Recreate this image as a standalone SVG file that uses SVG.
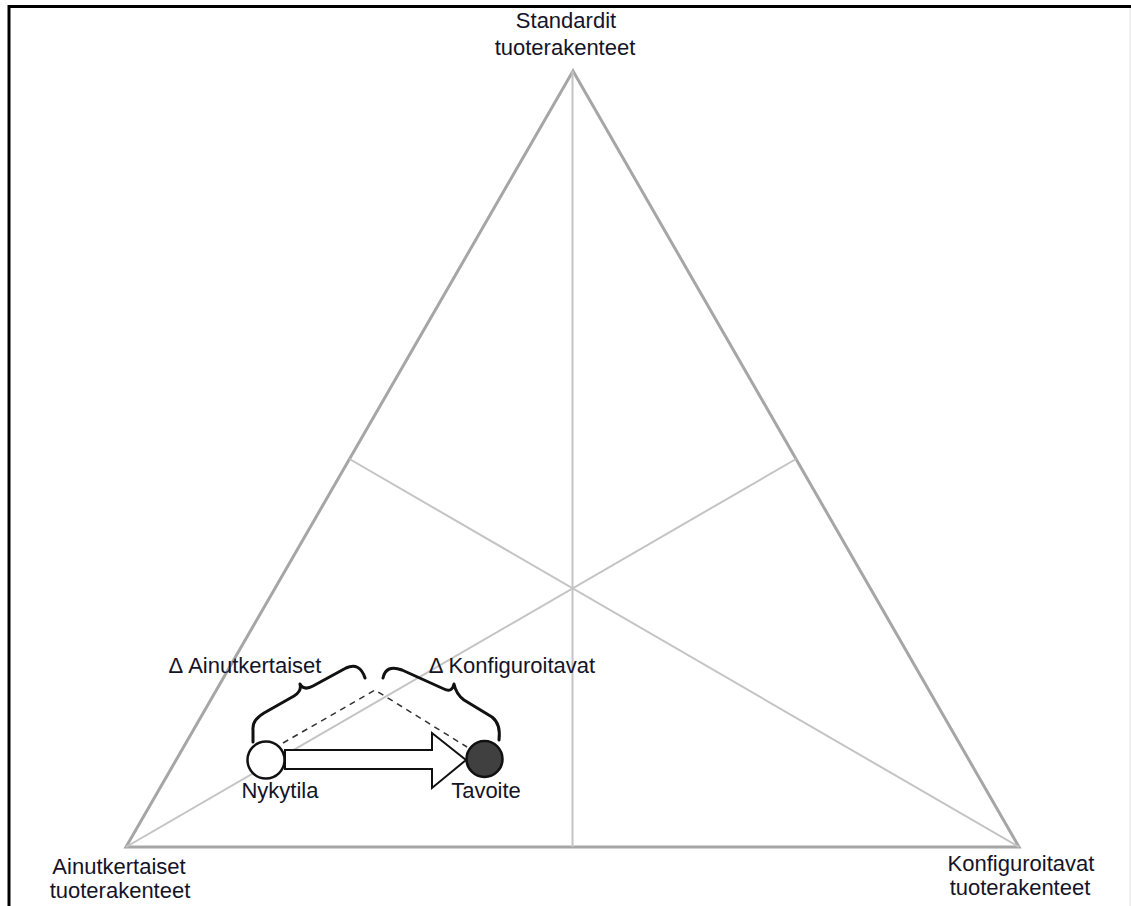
<svg xmlns="http://www.w3.org/2000/svg" width="1131" height="906" viewBox="0 0 1131 906">
  <style>
    .lbl { font-family: "Liberation Sans", Arial, sans-serif; font-size: 22px; fill: #141428; text-anchor: middle; }
    .tri { fill: none; stroke: #a6a6a6; stroke-width: 3; stroke-linejoin: miter; }
    .guide { fill: none; stroke: #c4c4c4; stroke-width: 2; }
    .brace { fill: none; stroke: #111; stroke-width: 3; stroke-linecap: round; stroke-linejoin: round; }
    .dash { fill: none; stroke: #333; stroke-width: 1.5; stroke-dasharray: 6 5; }
  </style>

  <rect x="0" y="0" width="1131" height="906" fill="#fff"/>
  <!-- frame -->
  <path d="M9,906 V6.5 H1131" fill="none" stroke="#000" stroke-width="3"/>
  <line x1="1130" y1="8" x2="1130" y2="906" stroke="#e2e2e2" stroke-width="1"/>

  <!-- ternary triangle -->
  <g id="triangle">
    <polygon class="tri" points="573,71 1019,847 126,847"/>
    <g class="guide">
      <line x1="572.5" y1="71" x2="572.5" y2="847"/>
      <line x1="126" y1="847" x2="796" y2="459"/>
      <line x1="1019" y1="847" x2="349.5" y2="459"/>
    </g>
  </g>

  <!-- corner labels -->
  <g id="corner-standard">
    <text class="lbl" x="566" y="28">Standardit</text>
    <text class="lbl" x="565" y="55">tuoterakenteet</text>
  </g>
  <g id="corner-unique">
    <text class="lbl" x="119" y="874">Ainutkertaiset</text>
    <text class="lbl" x="120" y="898">tuoterakenteet</text>
  </g>
  <g id="corner-configurable">
    <text class="lbl" x="1021" y="871">Konfiguroitavat</text>
    <text class="lbl" x="1020" y="895">tuoterakenteet</text>
  </g>

  <!-- connectors -->
  <g id="connectors">
    <polyline class="dash" points="283,743 375,690 467,747"/>
    <path d="M285,750 H432 V733 L466,760 L432,788 V769 H285 Z" fill="#fff" stroke="#111" stroke-width="2" stroke-linejoin="miter"/>
    <!-- left brace -->
    <path class="brace" d="M253,742 V730 Q252,720 264,713 L294,696 Q302,691 300,684 Q304,691 313,686 L346,668 Q360,662 365,678"/>
    <!-- right brace -->
    <path class="brace" d="M383,678 Q386,664 402,670 L444,689 Q452,693 454,684 Q456,694 464,700 L492,717 Q501,724 499,740"/>
  </g>

  <!-- states -->
  <g id="node-nykytila">
    <circle cx="266" cy="760" r="18.5" fill="#fff" stroke="#111" stroke-width="2.5"/>
    <text class="lbl" x="280" y="798">Nykytila</text>
  </g>
  <g id="node-tavoite">
    <circle cx="484.5" cy="759" r="18" fill="#404040" stroke="#111" stroke-width="2.5"/>
    <text class="lbl" x="486" y="798">Tavoite</text>
  </g>

  <!-- brace labels -->
  <g id="delta-labels">
    <text class="lbl" x="245" y="673">Δ Ainutkertaiset</text>
    <text class="lbl" x="512" y="673">Δ Konfiguroitavat</text>
  </g>
</svg>
